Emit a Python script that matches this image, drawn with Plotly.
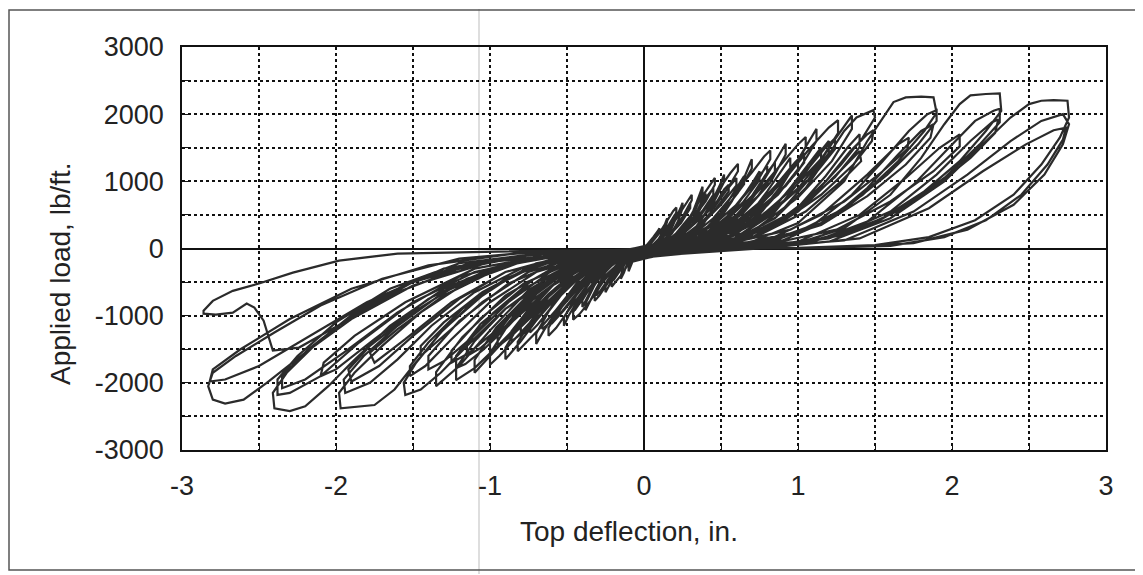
import plotly.graph_objects as go

# Load-deflection record, cycle by cycle: (top deflection in., applied load lb/ft)
cyc_01 = [(0, 0), (0.03, 80), (0.06, 170), (0.09, 260), (0.10, 300), (0.10, 260), (0.07, 150), (0.04, 60), (0.0, 0),
          (-0.04, -80), (-0.07, -170), (-0.09, -280), (-0.10, -340), (-0.10, -290), (-0.07, -170), (-0.03, -60), (0, 0)]
cyc_02 = [(0.04, 20), (0.08, 80), (0.11, 200), (0.13, 340), (0.15, 450), (0.15, 400), (0.13, 250), (0.10, 110), (0.06, 30),
          (0.02, 0), (-0.04, -30), (-0.08, -100), (-0.11, -230), (-0.13, -360), (-0.15, -450), (-0.15, -400), (-0.13, -250),
          (-0.10, -110), (-0.05, -30), (-0.02, -60)]
cyc_03 = [(0.05, 90), (0.10, 230), (0.15, 420), (0.19, 560), (0.21, 610), (0.21, 540), (0.17, 350), (0.12, 170), (0.06, 50),
          (0.0, -10), (-0.05, -90), (-0.10, -230), (-0.15, -400), (-0.19, -520), (-0.21, -570), (-0.21, -500), (-0.17, -320),
          (-0.11, -150), (-0.05, -40), (0.02, 30)]
cyc_04 = [(0.06, 60), (0.12, 200), (0.17, 380), (0.20, 500), (0.20, 440), (0.15, 250), (0.08, 80), (0.0, -10), (-0.06, -70),
          (-0.12, -210), (-0.17, -380), (-0.20, -480), (-0.20, -420), (-0.14, -220), (-0.07, -70), (-0.03, -90)]
cyc_05 = [(0.06, 20), (0.12, 90), (0.17, 250), (0.21, 450), (0.24, 620), (0.25, 680), (0.25, 600), (0.22, 400), (0.17, 190),
          (0.11, 60), (0.04, 5), (-0.04, -30), (-0.11, -110), (-0.16, -270), (-0.21, -470), (-0.24, -600), (-0.25, -650),
          (-0.25, -570), (-0.21, -370), (-0.15, -170), (-0.07, -40), (0.02, 40)]
cyc_06 = [(0.08, 70), (0.15, 230), (0.22, 480), (0.28, 700), (0.31, 800), (0.31, 720), (0.26, 480), (0.18, 230), (0.09, 70),
          (0.0, -20), (-0.08, -90), (-0.16, -260), (-0.23, -500), (-0.29, -700), (-0.32, -780), (-0.32, -700), (-0.26, -460),
          (-0.17, -220), (-0.08, -70), (-0.04, -120)]
cyc_07 = [(0.10, 60), (0.18, 220), (0.25, 470), (0.30, 680), (0.30, 600), (0.24, 380), (0.15, 160), (0.05, 30), (-0.05, -40),
          (-0.14, -180), (-0.22, -420), (-0.28, -620), (-0.31, -700), (-0.31, -620), (-0.24, -380), (-0.14, -170), (-0.05, -50),
          (0.02, 50)]
cyc_08 = [(0.09, 20), (0.18, 100), (0.26, 300), (0.32, 560), (0.36, 800), (0.38, 920), (0.38, 830), (0.33, 560), (0.25, 270),
          (0.16, 80), (0.06, 10), (-0.06, -40), (-0.16, -140), (-0.25, -350), (-0.31, -600), (-0.36, -820), (-0.38, -920),
          (-0.38, -820), (-0.32, -540), (-0.23, -250), (-0.12, -70), (-0.05, -150)]
cyc_09 = [(0.10, 20), (0.20, 110), (0.29, 330), (0.35, 580), (0.39, 760), (0.40, 820), (0.40, 730), (0.34, 490), (0.25, 230),
          (0.15, 60), (0.05, 0), (-0.07, -50), (-0.18, -170), (-0.28, -400), (-0.35, -650), (-0.39, -820), (-0.40, -870),
          (-0.40, -770), (-0.33, -500), (-0.23, -230), (-0.11, -70), (-0.03, -110)]
cyc_10 = [(0.10, 50), (0.20, 200), (0.30, 480), (0.38, 780), (0.44, 980), (0.46, 1050), (0.46, 950), (0.40, 700), (0.30, 400),
          (0.18, 170), (0.06, 40), (-0.06, -60), (-0.16, -200), (-0.26, -480), (-0.35, -780), (-0.42, -980), (-0.46, -1060),
          (-0.46, -950), (-0.39, -680), (-0.28, -380), (-0.15, -150), (-0.05, -40), (0.03, 40)]
cyc_11 = [(0.12, 40), (0.24, 210), (0.34, 520), (0.41, 780), (0.45, 900), (0.45, 800), (0.38, 560), (0.26, 280), (0.12, 80),
          (0.0, -20), (-0.12, -80), (-0.24, -260), (-0.34, -560), (-0.42, -820), (-0.45, -920), (-0.45, -820), (-0.36, -520),
          (-0.22, -220), (-0.08, -60), (-0.05, -130)]
cyc_12 = [(0.12, 20), (0.24, 110), (0.35, 340), (0.43, 650), (0.49, 930), (0.52, 1100), (0.52, 990), (0.45, 680), (0.34, 330),
          (0.21, 100), (0.08, 10), (-0.08, -40), (-0.20, -150), (-0.32, -400), (-0.42, -740), (-0.49, -1000), (-0.52, -1150),
          (-0.52, -1030), (-0.44, -700), (-0.32, -350), (-0.17, -100), (-0.06, -170)]
cyc_13 = [(0.12, 50), (0.25, 200), (0.37, 500), (0.48, 850), (0.56, 1120), (0.61, 1260), (0.61, 1150), (0.54, 880), (0.42, 560),
          (0.28, 270), (0.14, 90), (0.0, -20), (-0.12, -80), (-0.25, -250), (-0.38, -580), (-0.49, -920), (-0.57, -1180),
          (-0.62, -1300), (-0.62, -1180), (-0.53, -860), (-0.40, -520), (-0.25, -230), (-0.10, -60), (0.03, 60)]
cyc_14 = [(0.15, 40), (0.30, 200), (0.43, 530), (0.53, 850), (0.60, 1050), (0.60, 940), (0.50, 650), (0.36, 330), (0.20, 110),
          (0.05, 0), (-0.10, -60), (-0.25, -230), (-0.40, -580), (-0.52, -920), (-0.60, -1120), (-0.60, -1000), (-0.49, -680),
          (-0.33, -330), (-0.16, -90), (-0.06, -160)]
cyc_15 = [(0.14, 30), (0.28, 140), (0.39, 380), (0.47, 680), (0.52, 880), (0.55, 950), (0.55, 850), (0.46, 570), (0.34, 270),
          (0.20, 80), (0.06, 0), (-0.10, -60), (-0.24, -200), (-0.36, -450), (-0.46, -740), (-0.53, -930), (-0.56, -1000),
          (-0.56, -900), (-0.46, -600), (-0.32, -300), (-0.16, -110), (-0.04, -60)]
cyc_16 = [(0.18, 30), (0.34, 150), (0.47, 420), (0.56, 750), (0.62, 980), (0.65, 1080), (0.65, 960), (0.55, 650), (0.41, 320),
          (0.25, 100), (0.08, 10), (-0.10, -60), (-0.27, -220), (-0.42, -540), (-0.54, -880), (-0.62, -1120), (-0.66, -1200),
          (-0.66, -1060), (-0.54, -700), (-0.38, -340), (-0.18, -110), (-0.05, -140)]
cyc_17 = [(0.15, 20), (0.32, 100), (0.46, 330), (0.57, 700), (0.65, 1050), (0.70, 1330), (0.70, 1190), (0.61, 830), (0.47, 420),
          (0.30, 130), (0.12, 15), (-0.10, -40), (-0.26, -160), (-0.42, -460), (-0.55, -870), (-0.65, -1220), (-0.70, -1420),
          (-0.70, -1270), (-0.60, -860), (-0.44, -430), (-0.24, -120), (-0.08, -190)]
cyc_18 = [(0.20, 20), (0.38, 100), (0.52, 350), (0.63, 720), (0.71, 1000), (0.75, 1150), (0.75, 1020), (0.64, 680), (0.48, 330),
          (0.30, 90), (0.10, 5), (-0.12, -40), (-0.30, -170), (-0.47, -500), (-0.60, -880), (-0.69, -1130), (-0.74, -1250),
          (-0.74, -1100), (-0.62, -720), (-0.44, -340), (-0.22, -80), (0.03, 50)]
cyc_19 = [(0.15, 40), (0.30, 170), (0.45, 450), (0.58, 800), (0.70, 1130), (0.78, 1370), (0.82, 1460), (0.82, 1330), (0.74, 1020),
          (0.60, 650), (0.44, 330), (0.26, 120), (0.10, 20), (-0.05, -40), (-0.20, -140), (-0.36, -400), (-0.52, -780),
          (-0.66, -1150), (-0.77, -1420), (-0.82, -1530), (-0.82, -1390), (-0.72, -1050), (-0.56, -650), (-0.38, -320),
          (-0.20, -110), (-0.07, -170)]
cyc_20 = [(0.20, 40), (0.38, 170), (0.54, 480), (0.67, 850), (0.76, 1120), (0.80, 1230), (0.80, 1100), (0.70, 780), (0.54, 430),
          (0.35, 170), (0.15, 40), (-0.05, -30), (-0.25, -150), (-0.45, -460), (-0.62, -860), (-0.74, -1180), (-0.80, -1300),
          (-0.80, -1170), (-0.68, -820), (-0.50, -440), (-0.30, -160), (-0.05, -120)]
cyc_21 = [(0.22, 30), (0.42, 140), (0.58, 420), (0.70, 780), (0.79, 1100), (0.85, 1280), (0.85, 1140), (0.74, 780), (0.56, 400),
          (0.36, 130), (0.14, 20), (-0.12, -70), (-0.34, -230), (-0.52, -580), (-0.67, -980), (-0.79, -1260), (-0.86, -1380),
          (-0.86, -1230), (-0.72, -820), (-0.52, -400), (-0.28, -150), (-0.06, -100)]
cyc_22 = [(0.20, 20), (0.40, 110), (0.58, 380), (0.72, 800), (0.84, 1250), (0.92, 1560), (0.92, 1400), (0.82, 980), (0.64, 520),
          (0.42, 170), (0.18, 20), (-0.10, -40), (-0.30, -170), (-0.50, -500), (-0.67, -980), (-0.80, -1380), (-0.90, -1650),
          (-0.90, -1480), (-0.78, -1020), (-0.58, -520), (-0.32, -150), (-0.09, -200)]
cyc_23 = [(0.25, 20), (0.48, 120), (0.66, 420), (0.80, 850), (0.90, 1180), (0.95, 1350), (0.95, 1200), (0.83, 820), (0.64, 420),
          (0.40, 120), (0.15, 10), (-0.15, -50), (-0.38, -220), (-0.58, -600), (-0.74, -1030), (-0.87, -1320), (-0.95, -1450),
          (-0.95, -1300), (-0.80, -880), (-0.58, -420), (-0.30, -100), (0.02, 40)]
cyc_24 = [(0.28, 30), (0.54, 170), (0.74, 500), (0.88, 900), (0.97, 1220), (1.00, 1320), (1.00, 1180), (0.87, 800), (0.67, 420),
          (0.44, 140), (0.18, 15), (-0.15, -70), (-0.40, -260), (-0.62, -680), (-0.80, -1120), (-0.93, -1430), (-1.00, -1520),
          (-1.00, -1360), (-0.84, -900), (-0.60, -430), (-0.30, -120), (-0.04, -80)]
cyc_25 = [(0.20, 40), (0.40, 170), (0.60, 500), (0.76, 900), (0.90, 1280), (1.00, 1550), (1.05, 1660), (1.05, 1500), (0.96, 1180),
          (0.80, 780), (0.60, 400), (0.38, 150), (0.16, 40), (-0.05, -40), (-0.25, -160), (-0.45, -450), (-0.65, -880),
          (-0.82, -1300), (-0.94, -1600), (-1.00, -1730), (-1.00, -1560), (-0.90, -1200), (-0.72, -760), (-0.50, -380),
          (-0.28, -140), (-0.08, -180)]
cyc_26 = [(0.25, 40), (0.50, 200), (0.70, 560), (0.86, 950), (0.98, 1280), (1.04, 1420), (1.04, 1280), (0.92, 930), (0.72, 540),
          (0.48, 220), (0.22, 60), (0.0, -20), (-0.25, -160), (-0.50, -520), (-0.70, -950), (-0.86, -1300), (-0.97, -1500),
          (-1.00, -1560), (-1.00, -1400), (-0.86, -980), (-0.62, -520), (-0.36, -180), (-0.04, -100)]
cyc_27 = [(0.25, 20), (0.50, 120), (0.72, 420), (0.88, 880), (1.02, 1400), (1.12, 1780), (1.12, 1600), (1.00, 1150), (0.80, 640),
          (0.55, 230), (0.25, 30), (-0.10, -40), (-0.35, -180), (-0.60, -560), (-0.80, -1100), (-0.98, -1560), (-1.10, -1850),
          (-1.10, -1660), (-0.96, -1180), (-0.72, -620), (-0.42, -190), (-0.10, -210)]
cyc_28 = [(0.30, 20), (0.58, 140), (0.80, 480), (0.96, 930), (1.08, 1300), (1.15, 1500), (1.15, 1330), (1.01, 920), (0.80, 480),
          (0.52, 140), (0.20, 10), (-0.20, -60), (-0.45, -250), (-0.70, -680), (-0.90, -1160), (-1.06, -1480), (-1.15, -1600),
          (-1.15, -1420), (-0.98, -960), (-0.72, -460), (-0.38, -110), (0.0, -30)]
cyc_29 = [(0.25, 40), (0.50, 180), (0.72, 560), (0.92, 1050), (1.08, 1500), (1.20, 1800), (1.26, 1910), (1.26, 1720), (1.16, 1360),
          (0.98, 920), (0.76, 480), (0.50, 190), (0.24, 50), (0.0, -20), (-0.25, -160), (-0.50, -480), (-0.75, -980),
          (-0.95, -1450), (-1.10, -1780), (-1.20, -1940), (-1.22, -1960), (-1.22, -1780), (-1.10, -1380), (-0.90, -900),
          (-0.64, -460), (-0.36, -160), (-0.09, -190)]
cyc_30 = [(0.30, 40), (0.60, 220), (0.85, 640), (1.04, 1120), (1.17, 1480), (1.24, 1640), (1.24, 1480), (1.10, 1080), (0.86, 620),
          (0.58, 250), (0.28, 60), (0.0, -20), (-0.30, -170), (-0.60, -560), (-0.85, -1080), (-1.04, -1500), (-1.16, -1720),
          (-1.22, -1780), (-1.22, -1600), (-1.06, -1120), (-0.78, -600), (-0.46, -220), (-0.05, -110)]
cyc_31 = [(0.30, 30), (0.60, 160), (0.84, 520), (1.01, 1000), (1.13, 1400), (1.20, 1600), (1.20, 1420), (1.06, 1000), (0.84, 560),
          (0.56, 180), (0.22, 20), (-0.20, -80), (-0.48, -280), (-0.74, -720), (-0.96, -1220), (-1.14, -1560), (-1.25, -1700),
          (-1.25, -1520), (-1.06, -1040), (-0.78, -520), (-0.42, -160), (-0.06, -90)]
cyc_32 = [(0.30, 20), (0.60, 130), (0.86, 470), (1.06, 1000), (1.22, 1560), (1.35, 1980), (1.35, 1780), (1.22, 1300), (1.00, 760),
          (0.72, 280), (0.35, 40), (-0.15, -50), (-0.45, -200), (-0.75, -620), (-1.00, -1220), (-1.20, -1750), (-1.35, -2050),
          (-1.35, -1840), (-1.18, -1320), (-0.90, -700), (-0.52, -200), (-0.10, -200)]
cyc_33 = [(0.35, 20), (0.70, 160), (0.98, 560), (1.18, 1080), (1.32, 1500), (1.40, 1700), (1.40, 1510), (1.24, 1060), (0.98, 560),
          (0.65, 170), (0.25, 10), (-0.25, -70), (-0.58, -300), (-0.88, -800), (-1.12, -1330), (-1.30, -1680), (-1.40, -1800),
          (-1.40, -1600), (-1.20, -1080), (-0.88, -520), (-0.46, -120), (-0.02, -60)]
cyc_34 = [(0.30, 30), (0.60, 150), (0.85, 450), (1.05, 900), (1.20, 1400), (1.30, 1750), (1.38, 1950), (1.45, 2020), (1.49, 2060),
          (1.50, 1950), (1.42, 1650), (1.28, 1250), (1.10, 800), (0.88, 420), (0.62, 150), (0.35, 40), (0.05, 0),
          (-0.30, -180), (-0.60, -450), (-0.90, -900), (-1.15, -1450), (-1.32, -1850), (-1.45, -2100), (-1.55, -2180),
          (-1.56, -2000), (-1.48, -1700), (-1.32, -1250), (-1.10, -780), (-0.85, -400), (-0.55, -160), (-0.25, -40),
          (-0.08, -160)]
cyc_35 = [(0.30, 30), (0.65, 150), (0.95, 500), (1.18, 1000), (1.34, 1450), (1.45, 1700), (1.49, 1760), (1.48, 1600), (1.36, 1250),
          (1.15, 800), (0.90, 400), (0.60, 130), (0.30, 30), (0.0, -10), (-0.35, -120), (-0.70, -350), (-1.00, -800),
          (-1.25, -1350), (-1.42, -1750), (-1.52, -1900), (-1.52, -1750), (-1.40, -1400), (-1.18, -900), (-0.90, -450),
          (-0.60, -160), (-0.30, -40), (-0.05, -100)]
cyc_36 = [(0.30, 20), (0.70, 100), (1.00, 380), (1.30, 1000), (1.45, 1600), (1.55, 1950), (1.62, 2180), (1.70, 2250), (1.80, 2260),
          (1.88, 2250), (1.90, 2020), (1.82, 1750), (1.65, 1300), (1.42, 800), (1.15, 380), (0.85, 120), (0.50, 30), (0.10, -10),
          (-0.30, -100), (-0.70, -250), (-1.00, -600), (-1.30, -1200), (-1.50, -1750), (-1.62, -2100), (-1.75, -2330),
          (-1.97, -2380), (-1.98, -2150), (-1.88, -1850), (-1.70, -1450), (-1.45, -950), (-1.15, -500), (-0.80, -200),
          (-0.40, -50), (-0.10, -180)]
cyc_37 = [(0.30, 20), (0.70, 150), (1.00, 550), (1.25, 1100), (1.40, 1450), (1.41, 1300), (1.28, 1000), (1.05, 550), (0.75, 200),
          (0.40, 40), (0.0, -10), (-0.40, -100), (-0.75, -350), (-1.05, -800), (-1.30, -1300), (-1.45, -1600), (-1.45, -1450),
          (-1.30, -1100), (-1.05, -650), (-0.70, -220), (-0.30, -40), (-0.04, -90)]
cyc_38 = [(0.40, 20), (0.80, 100), (1.10, 350), (1.35, 800), (1.55, 1300), (1.72, 1750), (1.84, 2000), (1.90, 2060), (1.90, 1900),
          (1.78, 1550), (1.58, 1100), (1.32, 620), (1.00, 250), (0.60, 60), (0.20, 0), (-0.40, -100), (-0.80, -300),
          (-1.10, -650), (-1.38, -1150), (-1.60, -1650), (-1.78, -2000), (-1.94, -2150), (-1.95, -1950), (-1.82, -1600),
          (-1.60, -1150), (-1.30, -650), (-0.95, -280), (-0.50, -70), (-0.08, -150)]
cyc_39 = [(0.50, 20), (0.90, 120), (1.20, 420), (1.45, 900), (1.65, 1400), (1.80, 1750), (1.88, 1850), (1.86, 1650), (1.70, 1250),
          (1.45, 780), (1.15, 350), (0.80, 100), (0.30, 0), (-0.50, -100), (-0.90, -350), (-1.20, -750), (-1.50, -1300),
          (-1.72, -1750), (-1.90, -1980), (-1.92, -1800), (-1.78, -1450), (-1.50, -950), (-1.15, -450), (-0.70, -130),
          (-0.06, -120)]
cyc_40 = [(0.50, 10), (1.00, 80), (1.30, 300), (1.60, 800), (1.80, 1350), (1.95, 1850), (2.05, 2150), (2.12, 2280), (2.22, 2300),
          (2.31, 2310), (2.32, 2050), (2.22, 1750), (2.05, 1300), (1.82, 850), (1.55, 450), (1.20, 150), (0.80, 40), (0.30, 0),
          (-0.40, -80), (-0.90, -220), (-1.30, -600), (-1.65, -1150), (-1.90, -1700), (-2.05, -2050), (-2.20, -2350),
          (-2.30, -2420), (-2.40, -2380), (-2.41, -2150), (-2.32, -1850), (-2.12, -1400), (-1.85, -900), (-1.50, -480),
          (-1.10, -200), (-0.60, -50), (-0.10, -170)]
cyc_41 = [(0.40, 20), (0.80, 120), (1.15, 500), (1.45, 1100), (1.65, 1550), (1.72, 1650), (1.71, 1480), (1.55, 1150), (1.30, 700),
          (0.95, 280), (0.50, 50), (0.0, -10), (-0.50, -100), (-0.90, -350), (-1.25, -800), (-1.55, -1350), (-1.75, -1700),
          (-1.78, -1550), (-1.60, -1200), (-1.30, -700), (-0.90, -250), (-0.40, -50), (-0.05, -100)]
cyc_42 = [(0.60, 10), (1.10, 100), (1.45, 400), (1.75, 950), (1.98, 1500), (2.15, 1900), (2.27, 2050), (2.31, 2080), (2.31, 1880),
          (2.18, 1550), (1.95, 1050), (1.65, 560), (1.30, 200), (0.80, 40), (0.30, 0), (-0.60, -100), (-1.10, -350),
          (-1.50, -800), (-1.85, -1400), (-2.10, -1900), (-2.30, -2150), (-2.38, -2180), (-2.38, -1950), (-2.25, -1600),
          (-2.00, -1100), (-1.65, -600), (-1.20, -220), (-0.60, -50), (-0.08, -150)]
cyc_43 = [(0.70, 20), (1.20, 150), (1.60, 550), (1.90, 1100), (2.12, 1600), (2.26, 1880), (2.30, 1920), (2.28, 1720), (2.12, 1350),
          (1.85, 850), (1.50, 380), (1.05, 90), (0.40, 0), (-0.70, -120), (-1.20, -420), (-1.60, -950), (-1.95, -1550),
          (-2.20, -1950), (-2.35, -2080), (-2.35, -1900), (-2.18, -1500), (-1.90, -1000), (-1.50, -500), (-1.00, -170),
          (-0.50, -40), (-0.06, -110)]
cyc_44 = [(0.60, 10), (1.20, 100), (1.60, 450), (1.95, 1000), (2.20, 1550), (2.38, 1950), (2.50, 2150), (2.58, 2200), (2.66, 2210),
          (2.75, 2200), (2.76, 1950), (2.70, 1650), (2.58, 1250), (2.40, 800), (2.15, 420), (1.85, 170), (1.50, 50), (1.00, 10),
          (0.40, 0), (-0.50, -80), (-1.00, -200), (-1.50, -550), (-1.90, -1050), (-2.20, -1550), (-2.45, -2000), (-2.60, -2250),
          (-2.72, -2310), (-2.80, -2250), (-2.83, -2050), (-2.80, -1850), (-2.65, -1600), (-2.40, -1250), (-2.10, -850),
          (-1.70, -450), (-1.20, -150), (-0.60, -30), (-0.10, -160)]
cyc_45 = [(0.50, 10), (1.00, 100), (1.40, 500), (1.70, 1050), (1.92, 1500), (2.05, 1700), (2.05, 1520), (1.88, 1150), (1.60, 700),
          (1.25, 280), (0.80, 60), (0.30, 0), (-0.50, -80), (-1.00, -300), (-1.40, -750), (-1.75, -1350), (-2.00, -1800),
          (-2.10, -1900), (-2.08, -1700), (-1.88, -1300), (-1.55, -800), (-1.10, -300), (-0.50, -50), (-0.05, -90)]
cyc_46 = [(0.70, 10), (1.30, 120), (1.75, 550), (2.10, 1100), (2.38, 1600), (2.58, 1900), (2.72, 2000), (2.76, 1850), (2.72, 1550),
          (2.60, 1100), (2.40, 650), (2.10, 280), (1.75, 80), (1.20, 10), (0.40, 0), (-0.70, -80), (-1.30, -300),
          (-1.80, -800), (-2.20, -1350), (-2.50, -1750), (-2.72, -1950), (-2.82, -1980), (-2.80, -1800), (-2.62, -1500),
          (-2.30, -1050), (-1.90, -600), (-1.40, -250), (-0.80, -60), (-0.08, -130)]
cyc_47 = [(0.80, 10), (1.40, 150), (1.85, 600), (2.20, 1150), (2.48, 1550), (2.66, 1760), (2.74, 1800), (2.72, 1620), (2.62, 1250),
          (2.45, 800), (2.22, 420), (1.95, 170), (1.60, 40), (1.00, 0), (0.50, 0), (-0.80, -40), (-1.60, -75), (-1.98, -180),
          (-2.28, -360), (-2.50, -520), (-2.67, -630), (-2.80, -780), (-2.86, -925), (-2.86, -970), (-2.78, -985),
          (-2.67, -955), (-2.58, -820), (-2.53, -880), (-2.47, -1075), (-2.41, -1520), (-2.24, -1475), (-1.95, -1100),
          (-1.60, -650), (-1.20, -300), (-0.70, -80), (0, 0)]

cycles = [cyc_01, cyc_02, cyc_03, cyc_04, cyc_05, cyc_06, cyc_07, cyc_08, cyc_09, cyc_10, cyc_11, cyc_12, cyc_13, cyc_14,
          cyc_15, cyc_16, cyc_17, cyc_18, cyc_19, cyc_20, cyc_21, cyc_22, cyc_23, cyc_24, cyc_25, cyc_26, cyc_27, cyc_28,
          cyc_29, cyc_30, cyc_31, cyc_32, cyc_33, cyc_34, cyc_35, cyc_36, cyc_37, cyc_38, cyc_39, cyc_40, cyc_41, cyc_42,
          cyc_43, cyc_44, cyc_45, cyc_46, cyc_47]

x_ticks = [-3, -2.5, -2, -1.5, -1, -0.5, 0, 0.5, 1, 1.5, 2, 2.5, 3]
x_labels = ["-3", "", "-2", "", "-1", "", "0", "", "1", "", "2", "", "3"]
y_ticks = [-3000, -2500, -2000, -1500, -1000, -500, 0, 500, 1000, 1500, 2000, 2500, 3000]
y_labels = ["-3000", "", "-2000", "", "-1000", "", "0", "", "1000", "", "2000", "", "3000"]

defl = [p[0] for c in cycles for p in c]
load = [p[1] for c in cycles for p in c]

fig = go.Figure()
fig.add_trace(go.Scatter(x=defl, y=load, mode="lines", line=dict(color="#2b2b2b", width=2.2),
                         showlegend=False, hoverinfo="skip"))

font = "Liberation Sans, Arial, sans-serif"
axis_common = dict(showgrid=True, gridcolor="#111111", griddash="dot", gridwidth=1.6,
                   zeroline=True, zerolinecolor="#111111", zerolinewidth=1.6,
                   showline=True, linecolor="#111111", linewidth=1.6, mirror=True,
                   ticks="inside", ticklen=7, tickcolor="#111111", tickwidth=1.2,
                   tickfont=dict(family=font, size=27, color="#222222"))

fig.update_xaxes(range=[-3, 3], tickvals=x_ticks, ticktext=x_labels, ticklabelstandoff=11, **axis_common)
fig.update_yaxes(range=[-3000, 3000], tickvals=y_ticks, ticktext=y_labels, ticklabelstandoff=11, **axis_common)

# page body adds an 8 px offset; figure coordinates are shifted to compensate
OFF = 8
W, H = 1135, 567
L, R, T, B = 174, 37, 39, 125
pw, ph = W - L - R, H - T - B


def px(x):
    return (x - OFF - L) / pw


def py(y):
    return (H - B - (y - OFF)) / ph


fig.update_layout(
    width=W, height=H,
    margin=dict(l=L, r=R, t=T, b=B),
    paper_bgcolor="white", plot_bgcolor="rgba(0,0,0,0)",
    annotations=[
        dict(text="Top deflection, in.", xref="paper", yref="paper", x=px(629), y=py(531),
             xanchor="center", yanchor="middle", showarrow=False,
             font=dict(family=font, size=28, color="#222222")),
        dict(text="Applied load, lb/ft.", xref="paper", yref="paper", x=px(60), y=py(274),
             xanchor="center", yanchor="middle", textangle=-90, showarrow=False,
             font=dict(family=font, size=28, color="#222222")),
    ],
    shapes=[
        dict(type="line", xref="paper", yref="paper", x0=px(479), x1=px(479), y0=py(574), y1=py(9),
             line=dict(color="#dedede", width=2), layer="below"),
        dict(type="rect", xref="paper", yref="paper", x0=px(9), x1=px(1137), y0=py(570), y1=py(10),
             line=dict(color="#555555", width=1.5), layer="above"),
    ],
)

fig.write_html("out.html")
